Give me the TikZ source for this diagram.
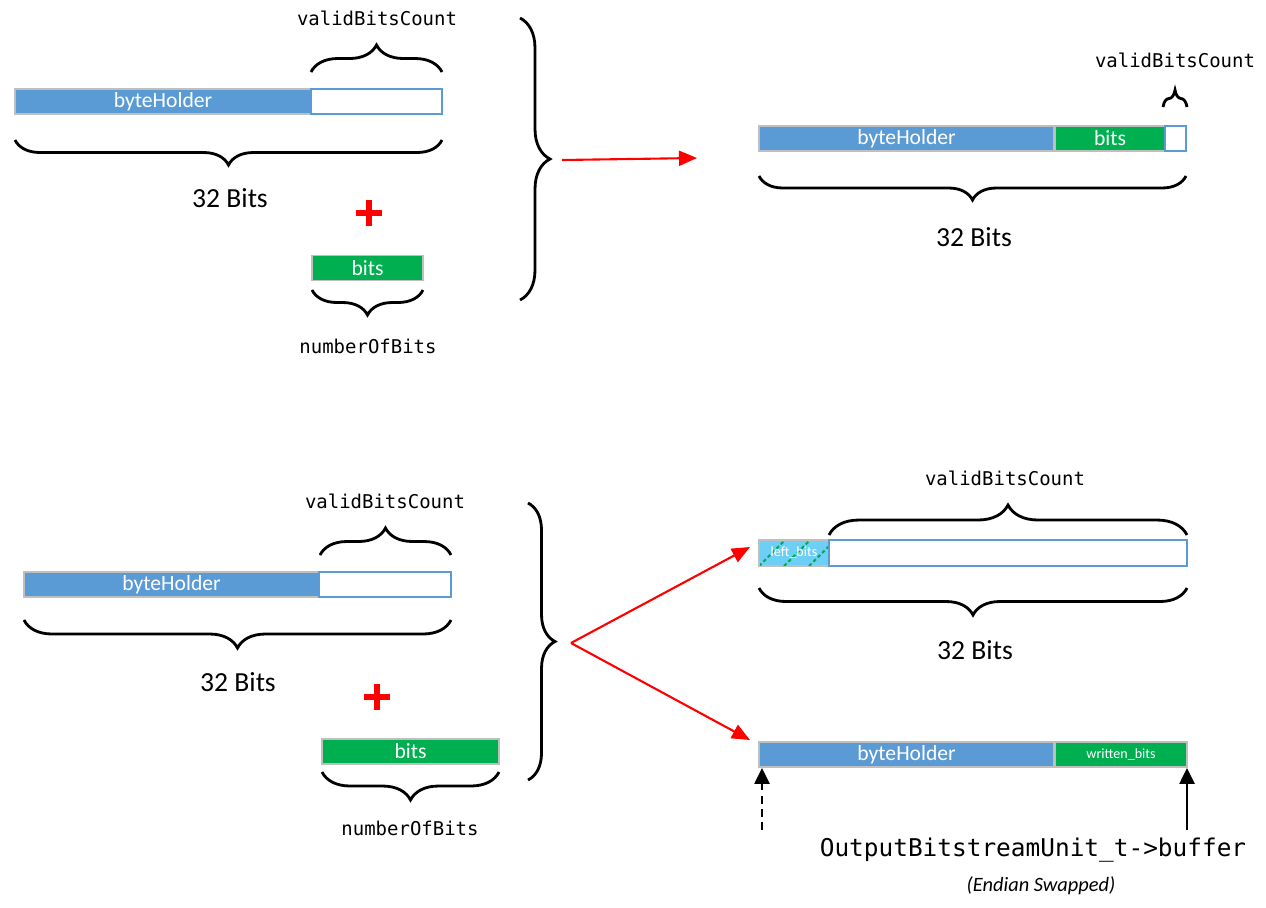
\documentclass[tikz,border=0pt]{standalone}
\usepackage{fontspec}
\setmainfont{Carlito}
\newfontfamily\monof{DejaVu Sans Mono}
\usetikzlibrary{decorations.pathreplacing,arrows.meta}
\definecolor{bblue}{HTML}{5B9BD5}
\definecolor{bgreen}{HTML}{00B050}
\definecolor{bgray}{HTML}{BFBFBF}
\definecolor{lblue}{HTML}{6DCFF6}
\begin{document}
\begin{tikzpicture}[x=0.02cm,y=-0.02cm,
 cell/.style={rectangle, inner sep=0pt, minimum height=0.5cm, line width=1.1pt, text=white, font=\fontsize{12.3}{14}\selectfont},
 holder/.style={cell, fill=bblue, draw=bgray},
 bitsbox/.style={cell, fill=bgreen, draw=bgray},
 emptybox/.style={cell, fill=white, draw=bblue},
 smalltext/.style={text=white, inner sep=0pt, font=\fontsize{8}{9}\selectfont},
 brc/.style={decorate, decoration={brace, amplitude=#1}, line width=1.6pt},
 mono/.style={inner sep=0pt, font=\monof\fontsize{10.8}{13}\selectfont},
 bitslbl/.style={inner sep=0pt, font=\fontsize{15.7}{18}\selectfont},
 redarrow/.style={draw=red, line width=1.2pt, -{Triangle[length=0.36cm,width=0.3cm]}},
 plusbar/.style={draw=red, line width=3.5pt},
 uparrow/.style={line width=1.5pt, -{Triangle[length=0.32cm,width=0.3cm]}}
]
\useasboundingbox (0,0) rectangle (1266,907);

% ---------- top left ----------
\node[holder, minimum width=5.92cm] (tlH) at (163,101.5) {byteHolder};
\node[emptybox, minimum width=2.62cm] (tlW) at (376.5,101.5) {};
\node[bitsbox, minimum width=2.22cm] (tlB) at (367.5,268) {bits};
\draw[brc=0.54cm] (311,72) -- (442,72);
\node[mono] (tlV) at (377,18) {validBitsCount};
\draw[brc=0.5cm] (442,140) -- (15,140);
\node[bitslbl] (tl32) at (230,198) {32 Bits};
\draw[plusbar] (356,213) -- (382,213);
\draw[plusbar] (369,200) -- (369,226);
\draw[brc=0.5cm] (423,290) -- (312,290);
\node[mono] (tlN) at (368,346) {numberOfBits};
\draw[brc=0.6cm] (520,18) -- (520,300);
\coordinate (r1s) at (562,160);
\coordinate (r1e) at (697,158);
\draw[redarrow] (r1s) -- (r1e);

% ---------- top right ----------
\node[holder, minimum width=5.9cm] (trH) at (906.5,138.5) {byteHolder};
\node[bitsbox, minimum width=2.2cm] (trB) at (1110,138.5) {bits};
\node[emptybox, minimum width=0.42cm] (trW) at (1175.5,138.5) {};
\draw[brc=0.34cm] (1163,107) -- (1187,107);
\node[mono] (trV) at (1175,60) {validBitsCount};
\draw[brc=0.48cm] (1186,176) -- (759,176);
\node[bitslbl] (tr32) at (974,237) {32 Bits};

% ---------- bottom left ----------
\node[holder, minimum width=5.9cm] (blH) at (171.5,584.5) {byteHolder};
\node[emptybox, minimum width=2.64cm] (blW) at (385,584.5) {};
\node[bitsbox, minimum width=3.54cm] (blB) at (410.5,751.5) {bits};
\draw[brc=0.54cm] (320,555) -- (451,555);
\node[mono] (blV) at (385,501) {validBitsCount};
\draw[brc=0.56cm] (451,620) -- (24,620);
\node[bitslbl] (bl32) at (238,682) {32 Bits};
\draw[plusbar] (364,697) -- (390,697);
\draw[plusbar] (377,684) -- (377,710);
\draw[brc=0.56cm] (499,772) -- (322,772);
\node[mono] (blN) at (410,828) {numberOfBits};
\draw[brc=0.54cm] (528,503) -- (528,780);
\coordinate (r2s) at (571,643);
\coordinate (r2a) at (750,547);
\coordinate (r2b) at (750,740);
\draw[redarrow] (r2s) -- (r2a);
\draw[redarrow] (r2s) -- (r2b);

% ---------- bottom right ----------
\node[cell, fill=lblue, draw=bgray, minimum width=1.4cm, minimum height=0.52cm] (brL) at (794,553) {};
\begin{scope}
  \clip (760,541) rectangle (828,565);
  \foreach \k in {-1,0,1,2,3}
    \draw[bgreen, line width=1.2pt, dash pattern=on 2pt off 1.5pt] (759+25*\k,566) -- ++(27,-27);
\end{scope}
\node[smalltext] (brLt) at (794,553) {left\_bits};
\node[emptybox, minimum width=7.16cm, minimum height=0.52cm] (brW) at (1008,553) {};
\draw[brc=0.6cm] (829,535) -- (1187,535);
\node[mono] (brV) at (1005,478) {validBitsCount};
\draw[brc=0.54cm] (1187,588) -- (759,588);
\node[bitslbl] (br32) at (975,650) {32 Bits};
\node[holder, minimum width=5.9cm] (brH) at (906.5,754.5) {byteHolder};
\node[bitsbox, minimum width=2.64cm, font=\fontsize{8}{9}\selectfont] (brB) at (1121,754.5) {written\_bits};
\coordinate (dsrc) at (762,830);
\coordinate (ssrc) at (1187,830);
\draw[uparrow, dash pattern=on 4.5pt off 3pt] (dsrc) -- (dsrc |- brH.south);
\draw[uparrow] (ssrc) -- (ssrc |- brB.south);
\node[inner sep=0pt, font=\monof\fontsize{13.9}{16}\selectfont] (outb) at (1033,850) {OutputBitstreamUnit\_t->buffer};
\node[inner sep=0pt, font=\itshape\fontsize{11.6}{13}\selectfont] (endian) at (1041,886) {(Endian Swapped)};
\end{tikzpicture}
\end{document}
